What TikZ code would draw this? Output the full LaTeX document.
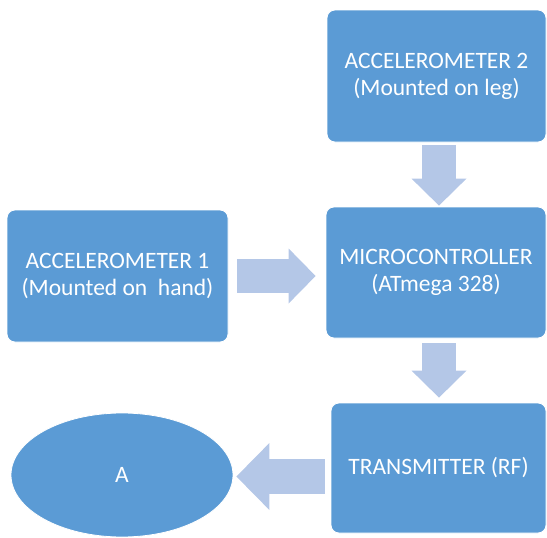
\documentclass[tikz,border=0pt]{standalone}
\usepackage{xcolor}
\definecolor{5b9bd5}{HTML}{5b9bd5}
\definecolor{b4c7e7}{HTML}{b4c7e7}
\usepackage{fontspec}
\setmainfont{Carlito}
\usepackage{tikz}
\usetikzlibrary{arrows.meta,shapes.geometric}

\tikzset{
    block/.style={rectangle, rounded corners=8pt, fill=5b9bd5, draw=white, line width=0.8pt,
                  text=white, align=center, inner sep=0pt,
                  font=\fontsize{23.5}{27}\selectfont},
    fat/.style={draw=b4c7e7, line width=34pt,
                -{Triangle[length=27pt, width=55pt, line width=0pt, color=b4c7e7]}}
}

\begin{document}
\begin{tikzpicture}[x=1pt, y=-1pt]
                        \useasboundingbox (0, 0) rectangle (547, 538);

                        \node (acc2) at (436.5, 76) [block, minimum width=219pt, minimum height=132pt] {ACCELEROMETER 2\\(Mounted on leg)};
                        \node (acc1) at (117.5, 276) [block, minimum width=221pt, minimum height=132pt] {ACCELEROMETER 1\\(Mounted on\ \ hand)};
                        \node (mcu) at (436, 272.5) [block, minimum width=220pt, minimum height=131pt] {MICROCONTROLLER\\(ATmega 328)};
                        \node (tx) at (438.5, 468) [block, minimum width=215pt, minimum height=130pt] {TRANSMITTER (RF)};
                        \node (A) at (122, 475) [block, ellipse, minimum width=222pt, minimum height=124pt] {A};

                        \draw[fat, shorten <=3pt, shorten >=1pt] ([xshift=2.5pt]acc2.south) to ([xshift=2.5pt]acc2.south |- mcu.north);
                        \draw[fat, shorten <=9pt, shorten >=10pt] (acc1.east) to (acc1.east -| mcu.west);
                        \draw[fat, shorten <=5pt, shorten >=5pt] ([xshift=3pt]mcu.south) to ([xshift=3pt]mcu.south |- tx.north);
                        \draw[fat, line width=35pt, -{Triangle[length=33pt, width=67pt, line width=0pt, color=b4c7e7]},
                              shorten <=6pt, shorten >=3pt] ([yshift=-1.5pt]tx.west |- A.east) to ([yshift=-1.5pt]A.east);
                    \end{tikzpicture}
\end{document}
